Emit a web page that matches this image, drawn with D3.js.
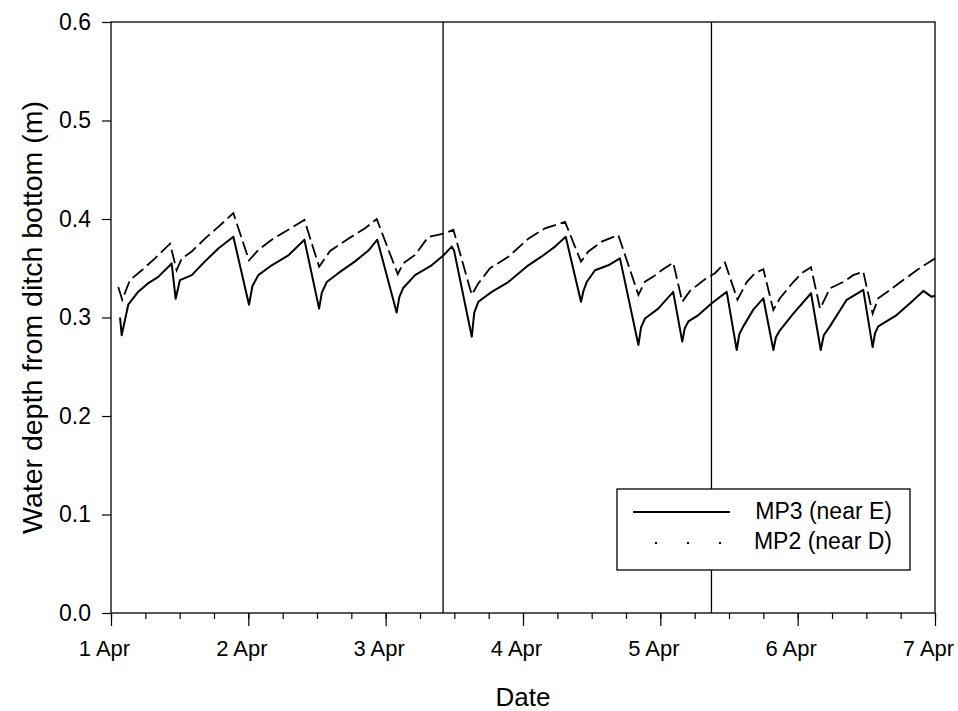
<!DOCTYPE html>
<html>
<head>
<meta charset="utf-8">
<script src="https://cdn.jsdelivr.net/npm/d3@7"></script>
<style>
  body { margin: 0; background: #fff; }
  text { font-family: "Liberation Sans", Arial, sans-serif; fill: #000; }
</style>
</head>
<body>
<div id="chart"></div>
<script>
// days after 1 Apr 00:00, and water depth (m)
const mp3Day = [0.066, 0.078, 0.126, 0.197, 0.272, 0.342, 0.430, 0.442, 0.471, 0.502, 0.588, 0.684, 0.781, 0.891,
  1.005, 1.030, 1.073, 1.170, 1.291, 1.408, 1.515, 1.535, 1.571, 1.655, 1.777, 1.874, 1.939,
  2.080, 2.100, 2.128, 2.214, 2.335, 2.420, 2.481, 2.498, 2.627, 2.645, 2.675, 2.772, 2.893,
  3.039, 3.136, 3.233, 3.311, 3.422, 3.440, 3.464, 3.524, 3.621, 3.706, 3.840, 3.860, 3.888, 3.985,
  4.094, 4.160, 4.178, 4.204, 4.277, 4.374, 4.483, 4.556, 4.575, 4.604, 4.677, 4.750, 4.823, 4.842, 4.871, 4.968,
  5.097, 5.168, 5.190, 5.235, 5.357, 5.478, 5.546, 5.563, 5.587, 5.721, 5.818, 5.915, 5.976, 6.0];
const mp3Depth = [0.300, 0.282, 0.313, 0.326, 0.335, 0.341, 0.353, 0.355, 0.319, 0.338, 0.343, 0.357, 0.370, 0.382,
  0.313, 0.332, 0.343, 0.353, 0.363, 0.379, 0.309, 0.325, 0.336, 0.345, 0.357, 0.368, 0.379,
  0.305, 0.321, 0.330, 0.343, 0.353, 0.363, 0.372, 0.368, 0.2805, 0.305, 0.316, 0.326, 0.336,
  0.353, 0.362, 0.372, 0.382, 0.316, 0.327, 0.336, 0.348, 0.353, 0.360, 0.272, 0.290, 0.299, 0.309,
  0.326, 0.2755, 0.289, 0.296, 0.3025, 0.3144, 0.326, 0.267, 0.283, 0.291, 0.308, 0.3195, 0.267, 0.280, 0.287, 0.304,
  0.3246, 0.267, 0.282, 0.291, 0.318, 0.328, 0.270, 0.284, 0.291, 0.3025, 0.3144, 0.327, 0.321, 0.322];

const mp2Day = [0.053, 0.082, 0.138, 0.224, 0.320, 0.430, 0.478, 0.515, 0.588, 0.684, 0.781, 0.891,
  1.005, 1.073, 1.170, 1.291, 1.408, 1.515, 1.595, 1.728, 1.850, 1.935,
  2.088, 2.128, 2.214, 2.310, 2.432, 2.493, 2.627, 2.675, 2.760, 2.893,
  3.039, 3.160, 3.306, 3.422, 3.476, 3.573, 3.694, 3.840, 3.888, 3.949,
  4.010, 4.094, 4.160, 4.216, 4.325, 4.398, 4.471, 4.562, 4.629, 4.689, 4.750, 4.823, 4.871, 4.968,
  5.029, 5.097, 5.163, 5.235, 5.332, 5.405, 5.478, 5.546, 5.587, 5.672, 5.769, 5.867, 6.0];
const mp2Depth = [0.331, 0.318, 0.338, 0.348, 0.360, 0.375, 0.348, 0.360, 0.367, 0.380, 0.392, 0.406,
  0.358, 0.3685, 0.379, 0.389, 0.399, 0.3516, 0.3675, 0.380, 0.3906, 0.400,
  0.344, 0.355, 0.3635, 0.3817, 0.3855, 0.389, 0.323, 0.3347, 0.350, 0.3617,
  0.380, 0.3905, 0.397, 0.3567, 0.367, 0.377, 0.3838, 0.323, 0.3364, 0.3415,
  0.348, 0.3557, 0.316, 0.327, 0.3388, 0.345, 0.3557, 0.318, 0.336, 0.345, 0.349, 0.3076, 0.3195, 0.336,
  0.345, 0.351, 0.309, 0.3296, 0.336, 0.343, 0.3465, 0.304, 0.3195, 0.328, 0.338, 0.348, 0.360];

// vertical reference lines (days after 1 Apr)
const eventDays = [2.418, 4.372];

const yTicks = [0.0, 0.1, 0.2, 0.3, 0.4, 0.5, 0.6];

const width = 958, height = 711;
const margin = { top: 22, right: 23, bottom: 98, left: 111 };

const start = new Date(2000, 3, 1);
const toDate = d => d3.timeMinute.offset(start, Math.round(d * 1440));

const svg = d3.select('#chart').append('svg')
    .attr('width', width)
    .attr('height', height);

const x = d3.scaleTime()
    .domain([start, d3.timeDay.offset(start, 6)])
    .range([margin.left, width - margin.right]);
const y = d3.scaleLinear()
    .domain([0, 0.6])
    .range([height - margin.bottom, margin.top]);

const x0 = margin.left, x1 = width - margin.right;
const y0 = height - margin.bottom, y1 = margin.top;

// minor x ticks (6 h)
svg.append('g')
    .attr('transform', 'translate(0,' + y0 + ')')
    .call(d3.axisBottom(x).ticks(d3.timeHour.every(6)).tickSize(6).tickFormat(''))
    .call(g => g.select('.domain').remove())
    .selectAll('line').attr('stroke-width', 1.2);

// major x ticks (labels sit a little left of the tick, as in the original)
svg.append('g')
    .attr('transform', 'translate(0,' + y0 + ')')
    .call(d3.axisBottom(x).ticks(d3.timeDay.every(1)).tickSize(13).tickPadding(14).tickFormat(d3.timeFormat('%-d %b')))
    .call(g => g.select('.domain').remove())
    .call(g => g.selectAll('line').attr('stroke-width', 1.2))
    .selectAll('text')
        .attr('dx', -7)
        .attr('font-size', 22)
        .style('font-family', '"Liberation Sans", Arial, sans-serif');

// y axis
svg.append('g')
    .attr('transform', 'translate(' + x0 + ',0)')
    .call(d3.axisLeft(y).tickValues(yTicks).tickSize(9).tickPadding(11).tickFormat(d3.format('.1f')))
    .call(g => g.select('.domain').remove())
    .call(g => g.selectAll('line').attr('stroke-width', 1.2))
    .selectAll('text')
        .attr('font-size', 23)
        .style('font-family', '"Liberation Sans", Arial, sans-serif');

// frame
svg.append('rect')
    .attr('x', x0).attr('y', y1)
    .attr('width', x1 - x0).attr('height', y0 - y1)
    .attr('fill', 'none')
    .attr('stroke', '#000')
    .attr('stroke-width', 1.3);

// event lines
svg.selectAll('.event')
    .data(eventDays)
    .enter().append('line')
        .attr('class', 'event')
        .attr('x1', d => x(toDate(d))).attr('x2', d => x(toDate(d)))
        .attr('y1', y1).attr('y2', y0)
        .attr('stroke', '#000')
        .attr('stroke-width', 1.3);

const line = d3.line()
    .x(d => x(toDate(d[0])))
    .y(d => y(d[1]));

svg.append('path')
    .datum(mp2Day.map((d, i) => [d, mp2Depth[i]]))
    .attr('d', line)
    .attr('fill', 'none')
    .attr('stroke', '#000')
    .attr('stroke-width', 1.8)
    .attr('stroke-dasharray', '14,5');

svg.append('path')
    .datum(mp3Day.map((d, i) => [d, mp3Depth[i]]))
    .attr('d', line)
    .attr('fill', 'none')
    .attr('stroke', '#000')
    .attr('stroke-width', 2)
    .attr('stroke-linejoin', 'round');

// axis titles
svg.append('text')
    .attr('x', (x0 + x1) / 2)
    .attr('y', 706)
    .attr('text-anchor', 'middle')
    .attr('font-size', 26)
    .text('Date');

svg.append('text')
    .attr('transform', 'translate(42,' + (y0 + y1) / 2 + ') rotate(-90)')
    .attr('text-anchor', 'middle')
    .attr('font-size', 28.5)
    .text('Water depth from ditch bottom (m)');

// legend
const legend = svg.append('g');
legend.append('rect')
    .attr('x', 617).attr('y', 489)
    .attr('width', 293).attr('height', 81)
    .attr('fill', '#fff')
    .attr('stroke', '#000')
    .attr('stroke-width', 1.3);
legend.append('line')
    .attr('x1', 633).attr('x2', 730)
    .attr('y1', 512).attr('y2', 512)
    .attr('stroke', '#000').attr('stroke-width', 2);
legend.append('line')
    .attr('x1', 655).attr('x2', 723)
    .attr('y1', 543).attr('y2', 543)
    .attr('stroke', '#000').attr('stroke-width', 2)
    .attr('stroke-dasharray', '2,30');
legend.append('text')
    .attr('x', 892).attr('y', 519)
    .attr('text-anchor', 'end')
    .attr('font-size', 23)
    .text('MP3 (near E)');
legend.append('text')
    .attr('x', 892).attr('y', 549)
    .attr('text-anchor', 'end')
    .attr('font-size', 23)
    .text('MP2 (near D)');
</script>
</body>
</html>
